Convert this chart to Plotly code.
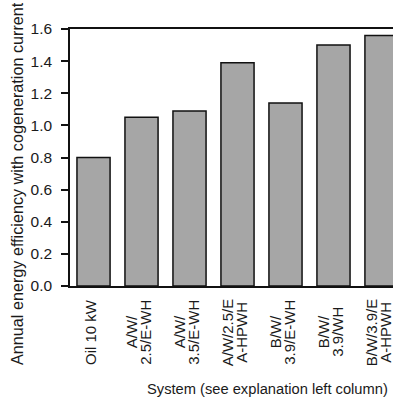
import plotly.graph_objects as go

categories = ["Oil 10 kW", "A/W/<br>2.5/E-WH", "A/W/<br>3.5/E-WH", "A/W/2.5/E<br>A-HPWH",
              "B/W/<br>3.9/E-WH", "B/W/<br>3.9/WH", "B/W/3.9/E<br>A-HPWH"]
values = [0.80, 1.05, 1.09, 1.39, 1.14, 1.50, 1.56]
y_ticks = [0.0, 0.2, 0.4, 0.6, 0.8, 1.0, 1.2, 1.4, 1.6]

W, H = 393, 399
L, T, B, R = 70, 29, 113, 0
pw, ph = W - L - R, H - T - B

fig = go.Figure(go.Bar(
    x=list(range(len(categories))), y=values,
    marker=dict(color="#a6a6a6", line=dict(color="#111", width=1.5)),
))
font = dict(family="Liberation Sans, Arial, sans-serif", color="#1a1a1a")

annotations = [
    dict(text="Annual energy efficiency with cogeneration current", textangle=-90,
         xref="paper", yref="paper", x=(17 - L) / pw, y=(H - B - 184) / ph,
         xanchor="center", yanchor="middle", showarrow=False, font=dict(size=16.2)),
    dict(text="System (see explanation left column)",
         xref="paper", yref="paper", x=(267 - L) / pw, y=(H - B - 389) / ph,
         xanchor="center", yanchor="middle", showarrow=False, font=dict(size=14.7)),
]
# category tick labels: rotated, each line centred, tight line spacing
for i, lab in enumerate(categories):
    lines = lab.split("<br>")
    n = len(lines)
    for j, ln in enumerate(lines):
        annotations.append(dict(
            text=ln, textangle=-90, xref="x", yref="paper", x=i, y=(H - B - 332) / ph,
            xanchor="center", yanchor="middle", showarrow=False,
            xshift=(j - (n - 1) / 2) * 13.5 - 3.5, font=dict(size=15)))

fig.update_layout(
    width=W, height=H, margin=dict(l=L, r=R, t=T, b=B),
    paper_bgcolor="white", plot_bgcolor="white", showlegend=False,
    bargap=0.31, font=font,
    xaxis=dict(range=[-0.49, 6.24], tickmode="array", tickvals=list(range(len(categories))),
               showticklabels=False,
               showline=True, linecolor="#111", linewidth=1.5, mirror=True,
               ticks="", showgrid=False, zeroline=False),
    yaxis=dict(range=[0, 1.6], tickmode="array", tickvals=y_ticks, tickformat=".1f",
               tickfont=dict(size=15.5), ticks="outside", ticklen=7, tickwidth=1.5, tickcolor="#111",
               ticklabelstandoff=6,
               showline=True, linecolor="#111", linewidth=1.5, showgrid=False, zeroline=False),
    annotations=annotations,
)
fig.write_html("out.html")
